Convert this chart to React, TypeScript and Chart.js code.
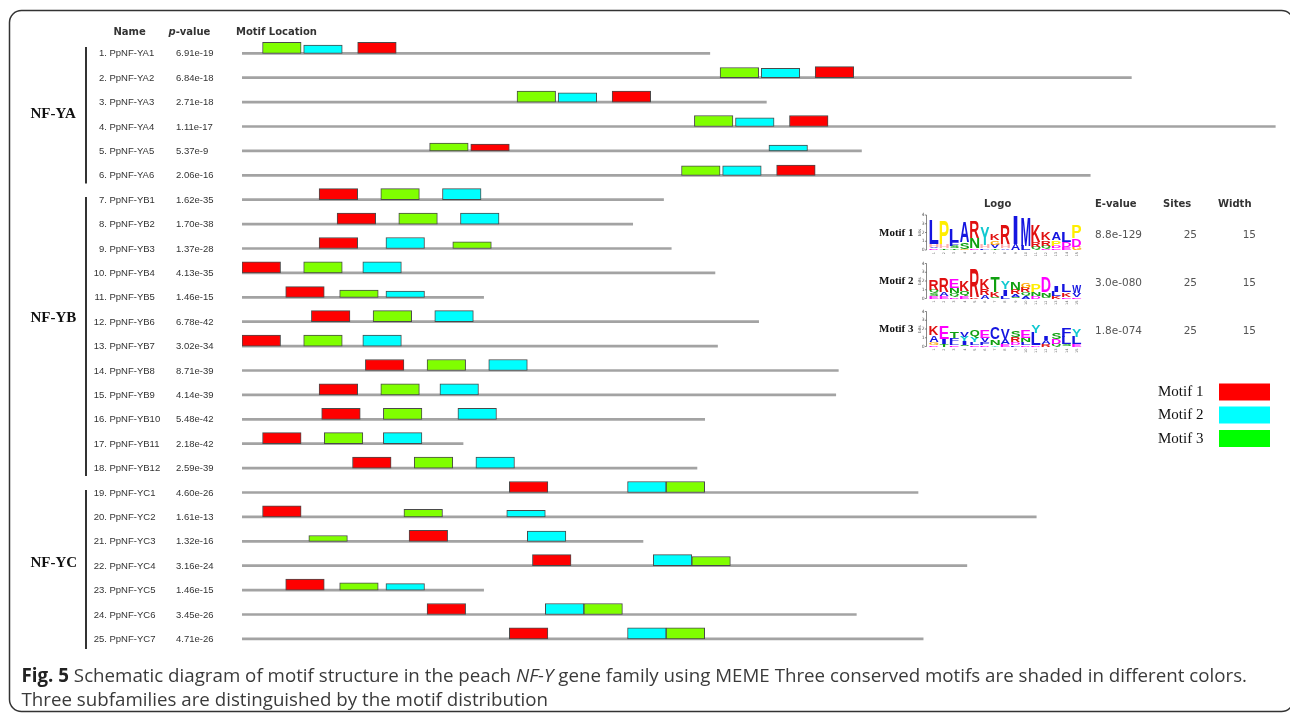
import React, { useEffect, useRef } from 'react';
import { Chart, registerables } from 'chart.js';

Chart.register(...registerables);

// ---------------- DATA ----------------
const GENE_NAMES = [
  'PpNF-YA1', 'PpNF-YA2', 'PpNF-YA3', 'PpNF-YA4', 'PpNF-YA5', 'PpNF-YA6',
  'PpNF-YB1', 'PpNF-YB2', 'PpNF-YB3', 'PpNF-YB4', 'PpNF-YB5', 'PpNF-YB6',
  'PpNF-YB7', 'PpNF-YB8', 'PpNF-YB9', 'PpNF-YB10', 'PpNF-YB11', 'PpNF-YB12',
  'PpNF-YC1', 'PpNF-YC2', 'PpNF-YC3', 'PpNF-YC4', 'PpNF-YC5', 'PpNF-YC6', 'PpNF-YC7',
];
const P_VALUES = [
  '6.91e-19', '6.84e-18', '2.71e-18', '1.11e-17', '5.37e-9', '2.06e-16',
  '1.62e-35', '1.70e-38', '1.37e-28', '4.13e-35', '1.46e-15', '6.78e-42',
  '3.02e-34', '8.71e-39', '4.14e-39', '5.48e-42', '2.18e-42', '2.59e-39',
  '4.60e-26', '1.61e-13', '1.32e-16', '3.16e-24', '1.46e-15', '3.45e-26', '4.71e-26',
];
// protein lengths (aa)
const PROTEIN_LENGTHS = [182, 346, 204, 402, 241, 330, 164, 152, 167, 184, 94, 201, 185, 232, 231, 180, 86, 177, 263, 309, 156, 282, 94, 239, 265];
// motif start positions (aa)
const MOTIF1_STARTS = [45, 223, 144, 213, 89, 208, 30, 37, 30, 0, 17, 27, 0, 48, 30, 31, 8, 43, 104, 8, 65, 113, 17, 72, 104];
const MOTIF2_STARTS = [24, 202, 123, 192, 205, 187, 78, 85, 56, 47, 56, 75, 47, 96, 77, 84, 55, 91, 150, 103, 111, 160, 56, 118, 150];
const MOTIF3_STARTS = [8, 186, 107, 176, 73, 171, 54, 61, 82, 24, 38, 51, 24, 72, 54, 55, 32, 67, 165, 63, 26, 175, 38, 133, 165];
// relative site significance (box height, 1 = strongest)
const MOTIF1_SIG = [1, 1, 1, 1, 0.63, 0.93, 1, 1, 1, 1, 0.97, 1, 1, 1, 1, 1, 1, 1, 1, 1, 1, 1, 1, 1, 1];
const MOTIF2_SIG = [0.75, 0.85, 0.85, 0.78, 0.53, 0.87, 1, 1, 1, 1, 0.56, 1, 1, 1, 1, 1, 1, 1, 1, 0.59, 0.93, 1, 0.59, 1, 1];
const MOTIF3_SIG = [1, 0.93, 1, 1, 0.72, 0.87, 1, 1, 0.6, 1, 0.65, 1, 1, 1, 1, 1, 1, 1, 1, 0.68, 0.53, 0.84, 0.65, 1, 1];
const MOTIF_WIDTH = 15;

const MOTIF_LABELS = ['Motif 1', 'Motif 2', 'Motif 3'];
const E_VALUES = ['8.8e-129', '3.0e-080', '1.8e-074'];
const SITES = ['25', '25', '25'];
const WIDTHS = ['15', '15', '15'];

const SUBFAMILIES = ['NF-YA', 'NF-YB', 'NF-YC'];

// sequence logos: per position, letters top -> bottom with bits
const MOTIF1_LOGO: [string, number][][] = [
  [['L', 2.7], ['H', 0.3], ['V', 0.2], ['D', 0.2]],
  [['P', 2.6], ['H', 0.5], ['T', 0.2]],
  [['L', 1.5], ['F', 0.4], ['S', 0.3], ['T', 0.2]],
  [['A', 2.4], ['S', 0.8], ['G', 0.1]],
  [['R', 1.9], ['N', 1.2], ['D', 0.2]],
  [['Y', 2.0], ['H', 0.4], ['F', 0.2]],
  [['K', 0.8], ['G', 0.5], ['V', 0.4], ['T', 0.2]],
  [['R', 2.2], ['H', 0.5], ['A', 0.2]],
  [['I', 3.2], ['A', 0.7]],
  [['M', 3.3], ['L', 0.5]],
  [['K', 1.9], ['R', 0.6], ['Q', 0.3]],
  [['K', 0.9], ['R', 0.6], ['Q', 0.3], ['D', 0.2]],
  [['A', 0.9], ['P', 0.6], ['D', 0.3], ['E', 0.2]],
  [['L', 1.2], ['D', 0.6], ['E', 0.3]],
  [['P', 1.4], ['D', 0.9], ['G', 0.4]],
];
const MOTIF2_LOGO: [string, number][][] = [
  [['R', 1.2], ['Q', 0.4], ['S', 0.3], ['E', 0.3]],
  [['R', 1.6], ['A', 0.5], ['E', 0.3]],
  [['E', 1.0], ['N', 0.6], ['Q', 0.4], ['D', 0.2]],
  [['K', 1.2], ['Q', 0.6], ['E', 0.3]],
  [['R', 3.2], ['K', 0.2]],
  [['K', 1.2], ['R', 0.7], ['A', 0.4]],
  [['T', 1.8], ['K', 0.6], ['S', 0.2]],
  [['Y', 0.9], ['I', 0.8], ['L', 0.3]],
  [['N', 0.9], ['R', 0.5], ['A', 0.3], ['S', 0.2]],
  [['G', 0.6], ['R', 0.5], ['Q', 0.4], ['A', 0.3]],
  [['P', 0.9], ['N', 0.4], ['D', 0.3]],
  [['D', 1.8], ['N', 0.5], ['S', 0.2]],
  [['I', 0.7], ['L', 0.5], ['K', 0.3]],
  [['L', 0.9], ['K', 0.5], ['E', 0.2]],
  [['W', 0.9], ['V', 0.4], ['E', 0.2]],
];
const MOTIF3_LOGO: [string, number][][] = [
  [['K', 1.0], ['A', 0.8], ['G', 0.3], ['D', 0.2]],
  [['E', 1.4], ['I', 0.6], ['T', 0.3]],
  [['T', 0.8], ['F', 0.5], ['L', 0.3], ['E', 0.2]],
  [['V', 0.6], ['Y', 0.5], ['I', 0.4], ['S', 0.2]],
  [['Q', 0.9], ['Y', 0.5], ['L', 0.3], ['E', 0.2]],
  [['E', 0.9], ['V', 0.5], ['F', 0.3], ['D', 0.2]],
  [['C', 1.4], ['N', 0.6], ['Y', 0.2]],
  [['V', 1.2], ['A', 0.6], ['E', 0.3]],
  [['S', 0.8], ['R', 0.6], ['D', 0.3], ['L', 0.2]],
  [['E', 0.8], ['N', 0.5], ['L', 0.3], ['D', 0.2]],
  [['Y', 0.8], ['L', 1.4], ['D', 0.2]],
  [['I', 0.5], ['A', 0.4], ['R', 0.3]],
  [['S', 0.8], ['D', 0.5], ['Q', 0.3]],
  [['F', 1.0], ['L', 0.8], ['S', 0.3]],
  [['Y', 0.8], ['L', 0.8], ['E', 0.3]],
];

// ---------------- STYLE / LAYOUT ----------------
const W = 1290;
const H = 719;
const ROW_PX = 24.4;
const BOX_MAX = 11;
const MOTIF_COLORS = ['#ff0000', '#00ffff', '#80ff00'];
const LEGEND_COLORS = ['#ff0000', '#00ffff', '#00ff00'];

const AA_COLORS: Record<string, string> = {
  A: '#1515e0', C: '#1515e0', F: '#1515e0', I: '#1515e0', L: '#1515e0', V: '#1515e0', W: '#1515e0', M: '#1515e0',
  N: '#10a010', Q: '#10a010', S: '#10a010', T: '#10a010',
  D: '#ff00ff', E: '#ff00ff',
  K: '#e01010', R: '#e01010',
  H: '#ffb0b0', G: '#ffa500', P: '#ffee00', Y: '#10c8d0',
};

function drawLetter(ctx: CanvasRenderingContext2D, ch: string, x: number, yBottom: number, w: number, h: number) {
  if (h < 0.3) return;
  ctx.save();
  ctx.font = 'bold 100px "Liberation Sans"';
  ctx.textAlign = 'left';
  ctx.textBaseline = 'alphabetic';
  const m = ctx.measureText(ch);
  const gw = m.actualBoundingBoxLeft + m.actualBoundingBoxRight;
  const gh = m.actualBoundingBoxAscent + m.actualBoundingBoxDescent;
  let ww = w;
  let xx = x;
  if (ch === 'I') {
    ww = w * 0.45;
    xx = x + (w - ww) / 2;
  }
  ctx.translate(xx, yBottom);
  ctx.scale(ww / gw, h / gh);
  ctx.fillStyle = AA_COLORS[ch] || '#000';
  ctx.fillText(ch, m.actualBoundingBoxLeft, -m.actualBoundingBoxDescent);
  ctx.restore();
}

function drawLogo(ctx: CanvasRenderingContext2D, logo: [string, number][][], x0: number, base: number) {
  const bitPx = 8.75;
  const colW = 10.2;
  ctx.strokeStyle = '#555';
  ctx.lineWidth = 0.7;
  ctx.beginPath();
  ctx.moveTo(926.5, base);
  ctx.lineTo(926.5, base - 4 * bitPx);
  ctx.stroke();
  ctx.fillStyle = '#555';
  ctx.font = '4.5px "DejaVu Sans"';
  ctx.textAlign = 'right';
  ctx.textBaseline = 'middle';
  for (let b = 0; b <= 4; b++) {
    const yy = base - b * bitPx;
    ctx.beginPath();
    ctx.moveTo(925, yy);
    ctx.lineTo(926.5, yy);
    ctx.stroke();
    ctx.fillText(String(b), 924.5, yy);
  }
  ctx.save();
  ctx.translate(920, base - 2 * bitPx);
  ctx.rotate(-Math.PI / 2);
  ctx.textAlign = 'center';
  ctx.font = '4px "DejaVu Sans"';
  ctx.fillText('bits', 0, 0);
  ctx.restore();
  logo.forEach((col, i) => {
    const x = x0 + i * colW;
    let yb = base;
    for (let k = col.length - 1; k >= 0; k--) {
      const [ch, bits] = col[k];
      const hh = bits * bitPx;
      drawLetter(ctx, ch, x + 0.4, yb, colW - 1.2, hh);
      yb -= hh;
    }
    ctx.save();
    ctx.fillStyle = '#666';
    ctx.font = '3.5px "DejaVu Sans"';
    ctx.translate(x + colW / 2, base + 2);
    ctx.rotate(-Math.PI / 2);
    ctx.textAlign = 'right';
    ctx.textBaseline = 'middle';
    ctx.fillText(String(i + 1), 0, 0);
    ctx.restore();
  });
}

const figurePlugin = {
  id: 'figureText',
  afterDraw(chart: any) {
    const ctx: CanvasRenderingContext2D = chart.ctx;
    const ys = chart.scales.y;
    ctx.save();

    // frame
    ctx.strokeStyle = '#333';
    ctx.lineWidth = 1.5;
    ctx.beginPath();
    (ctx as any).roundRect(9.5, 10.5, 1284, 701, 12);
    ctx.stroke();

    // headers
    ctx.fillStyle = '#333';
    ctx.textBaseline = 'middle';
    ctx.textAlign = 'left';
    ctx.font = 'bold 10px "DejaVu Sans"';
    ctx.fillText('Name', 113.5, 32);
    ctx.font = 'italic bold 10px "DejaVu Sans"';
    ctx.fillText('p', 168.5, 32);
    const pw = ctx.measureText('p').width;
    ctx.font = 'bold 10px "DejaVu Sans"';
    ctx.fillText('-value', 168.5 + pw, 32);
    ctx.fillText('Motif Location', 236, 32);

    // subfamily labels and brackets
    const groupY = [114.3, 318.3, 562.7];
    const bracket = [[47, 183.5], [197, 476], [490, 649]];
    ctx.font = 'bold 15px "Liberation Serif"';
    ctx.fillStyle = '#111';
    SUBFAMILIES.forEach((s, i) => {
      ctx.fillText(s, 30.5, groupY[i]);
    });
    ctx.strokeStyle = '#333';
    ctx.lineWidth = 2;
    bracket.forEach(([a, b]) => {
      ctx.beginPath();
      ctx.moveTo(86, a);
      ctx.lineTo(86, b);
      ctx.stroke();
    });

    // row labels
    ctx.fillStyle = '#333';
    ctx.font = '9.5px "Liberation Sans"';
    GENE_NAMES.forEach((name, i) => {
      const py = ys.getPixelForValue(i + 1) + 0.5;
      ctx.textAlign = 'right';
      ctx.fillText(`${i + 1}.`, 107, py);
      ctx.textAlign = 'left';
      ctx.fillText(name, 109.5, py);
      ctx.fillText(P_VALUES[i], 176, py);
    });

    // motif table
    ctx.fillStyle = '#333';
    ctx.font = 'bold 10px "DejaVu Sans"';
    ctx.textAlign = 'left';
    ctx.fillText('Logo', 984, 204);
    ctx.fillText('E-value', 1095, 204);
    ctx.fillText('Sites', 1163, 204);
    ctx.fillText('Width', 1218, 204);
    const rowY = [233, 281.5, 329.5];
    const logos = [MOTIF1_LOGO, MOTIF2_LOGO, MOTIF3_LOGO];
    MOTIF_LABELS.forEach((lab, i) => {
      const ry = rowY[i];
      ctx.fillStyle = '#111';
      ctx.font = 'bold 11px "Liberation Serif"';
      ctx.textAlign = 'left';
      ctx.textBaseline = 'middle';
      ctx.fillText(lab, 879, ry);
      ctx.fillStyle = '#555';
      ctx.font = '10.5px "DejaVu Sans"';
      ctx.fillText(E_VALUES[i], 1095, ry + 2);
      ctx.textAlign = 'right';
      ctx.fillText(SITES[i], 1197, ry + 2);
      ctx.fillText(WIDTHS[i], 1256, ry + 2);
      drawLogo(ctx, logos[i], 929, ry + 17);
    });

    // legend
    const legY = [392.5, 415.5, 439];
    MOTIF_LABELS.forEach((lab, i) => {
      ctx.fillStyle = '#111';
      ctx.font = '15px "Liberation Serif"';
      ctx.textAlign = 'left';
      ctx.textBaseline = 'middle';
      ctx.fillText(lab, 1158, legY[i]);
      ctx.fillStyle = LEGEND_COLORS[i];
      ctx.fillRect(1219, legY[i] - 9, 51, 17);
    });

    // caption
    const segs: [string, string][] = [
      ['Fig. 5', 'bold'],
      [' Schematic diagram of motif structure in the peach ', ''],
      ['NF-Y', 'italic'],
      [' gene family using MEME Three conserved motifs are shaded in different colors.', ''],
    ];
    const fsz = 19;
    let total = 0;
    segs.forEach(([t, st]) => {
      ctx.font = `${st} ${fsz}px "Open Sans"`;
      total += ctx.measureText(t).width;
    });
    const sc = (1247 - 21.5) / total;
    ctx.textAlign = 'left';
    ctx.textBaseline = 'middle';
    ctx.save();
    ctx.translate(21.5, 677);
    ctx.scale(sc, 1);
    let cx = 0;
    segs.forEach(([t, st]) => {
      ctx.font = `${st} ${fsz}px "Open Sans"`;
      ctx.fillStyle = st === 'bold' ? '#222' : '#3a3a3a';
      ctx.fillText(t, cx, 0);
      cx += ctx.measureText(t).width;
    });
    ctx.restore();
    ctx.save();
    ctx.translate(21.5, 701);
    ctx.scale(sc, 1);
    ctx.font = `${fsz}px "Open Sans"`;
    ctx.fillStyle = '#3a3a3a';
    ctx.fillText('Three subfamilies are distinguished by the motif distribution', 0, 0);
    ctx.restore();

    ctx.restore();
  },
};

function buildDatasets() {
  const ds: any[] = [];
  ds.push({
    label: 'protein',
    data: PROTEIN_LENGTHS.map((len, i) => ({ x: [0, len], y: i + 1 })),
    backgroundColor: '#a3a3a3',
    borderWidth: 0,
    barThickness: 2,
    grouped: false,
    order: 5,
  });
  const starts = [MOTIF1_STARTS, MOTIF2_STARTS, MOTIF3_STARTS];
  const sigs = [MOTIF1_SIG, MOTIF2_SIG, MOTIF3_SIG];
  starts.forEach((arr, m) => {
    arr.forEach((s, i) => {
      const h = BOX_MAX * sigs[m][i];
      ds.push({
        label: MOTIF_LABELS[m],
        data: [{ x: [s, s + MOTIF_WIDTH], y: i + 1 - h / 2 / ROW_PX }],
        backgroundColor: MOTIF_COLORS[m],
        borderColor: '#4a4a4a',
        borderWidth: 1,
        borderSkipped: false,
        barThickness: h,
        grouped: false,
        order: 1,
      });
    });
  });
  return ds;
}

export default function App() {
  const ref = useRef<HTMLCanvasElement | null>(null);
  useEffect(() => {
    if (!ref.current) return;
    const chart = new Chart(ref.current, {
      type: 'bar',
      data: { datasets: buildDatasets() },
      options: {
        indexAxis: 'y',
        responsive: false,
        animation: false,
        devicePixelRatio: 1,
        layout: { padding: { left: 242, right: 7, top: 28.9, bottom: H - (28.9 + 26 * ROW_PX) } },
        scales: {
          x: { type: 'linear', min: 0, max: 405, display: false },
          y: { type: 'linear', min: 0, max: 26, reverse: true, display: false, offset: false },
        },
        plugins: { legend: { display: false }, tooltip: { enabled: false } },
      },
      plugins: [figurePlugin],
    } as any);
    return () => chart.destroy();
  }, []);
  return (
    <div style={{ position: 'absolute', left: 0, top: 0, width: W, height: H, background: '#fff' }}>
      <canvas ref={ref} width={W} height={H} style={{ display: 'block' }} />
    </div>
  );
}
